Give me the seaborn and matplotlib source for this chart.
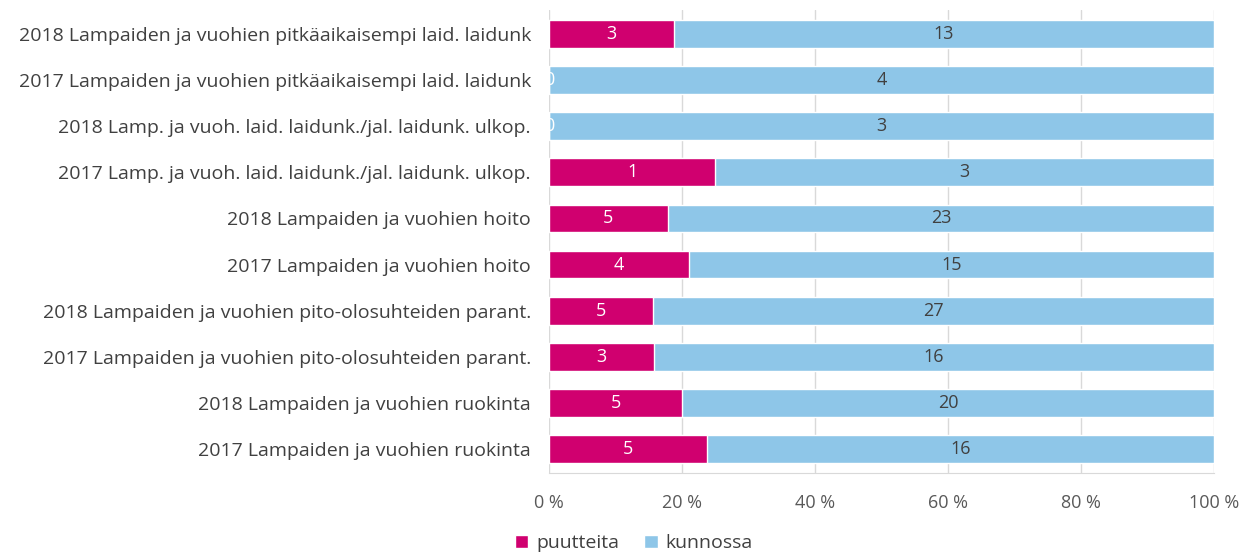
import numpy as np
import pandas as pd
import matplotlib.pyplot as plt
import seaborn as sns

# Data (top to bottom as in the chart)
categories = [
    "2018 Lampaiden ja vuohien pitkäaikaisempi laid. laidunk",
    "2017 Lampaiden ja vuohien pitkäaikaisempi laid. laidunk",
    "2018 Lamp. ja vuoh. laid. laidunk./jal. laidunk. ulkop.",
    "2017 Lamp. ja vuoh. laid. laidunk./jal. laidunk. ulkop.",
    "2018 Lampaiden ja vuohien hoito",
    "2017 Lampaiden ja vuohien hoito",
    "2018 Lampaiden ja vuohien pito-olosuhteiden parant.",
    "2017 Lampaiden ja vuohien pito-olosuhteiden parant.",
    "2018 Lampaiden ja vuohien ruokinta",
    "2017 Lampaiden ja vuohien ruokinta",
]
puutteita = [3, 0, 0, 1, 5, 4, 5, 3, 5, 5]
kunnossa = [13, 4, 3, 3, 23, 15, 27, 16, 20, 16]
series_names = ["puutteita", "kunnossa"]
xticks = [0, 20, 40, 60, 80, 100]

magenta = "#D0006F"
blue = "#8EC6E8"

df = pd.DataFrame({"cat": categories, "puutteita": puutteita, "kunnossa": kunnossa})
df["total"] = df["puutteita"] + df["kunnossa"]
df["p_pct"] = df["puutteita"] / df["total"] * 100
df["full"] = 100.0

sns.set_style("white")
plt.rcParams["font.family"] = ["Open Sans", "DejaVu Sans"]

fig = plt.figure(figsize=(12.43, 5.52), dpi=100)
ax = fig.add_axes([0.4417, 0.143, 0.535, 0.839])

# stacked: full bar in blue, puutteita share over it
sns.barplot(data=df, y="cat", x="full", color=blue, width=0.6, ax=ax,
            orient="h", saturation=1, label=series_names[1], zorder=2)
sns.barplot(data=df, y="cat", x="p_pct", color=magenta, width=0.6, ax=ax,
            orient="h", saturation=1, label=series_names[0], zorder=3)

# value labels
for i, row in df.iterrows():
    ax.text(row["p_pct"] / 2, i, str(row["puutteita"]), ha="center", va="center",
            color="white", fontsize=13, zorder=5, clip_on=False)
    ax.text(row["p_pct"] + (100 - row["p_pct"]) / 2, i, str(row["kunnossa"]),
            ha="center", va="center", color="#404040", fontsize=13, zorder=5)

ax.set_xlim(0, 100)
ax.set_ylim(len(categories) - 0.48, -0.52)
ax.set_xticks(xticks)
ax.set_xticklabels([f"{t} %" for t in xticks], fontsize=13, color="#595959")
ax.tick_params(axis="x", length=0, pad=15)
ax.tick_params(axis="y", length=0, pad=13, labelsize=14, labelcolor="#404040")
ax.set_xlabel("")
ax.set_ylabel("")
ax.grid(axis="x", color="#D9D9D9", linewidth=1, zorder=0)
ax.set_axisbelow(True)
for s in ["top", "right", "left"]:
    ax.spines[s].set_visible(False)
ax.spines["bottom"].set_color("#D9D9D9")

handles, labels = ax.get_legend_handles_labels()
order = [labels.index(n) for n in series_names]
fig.legend([handles[k] for k in order], [labels[k] for k in order],
           loc="lower center", bbox_to_anchor=(0.51, -0.032), ncol=2, frameon=False,
           fontsize=14, handlelength=0.7, handleheight=0.7, handletextpad=0.4,
           columnspacing=1.3, labelcolor="#404040")
if ax.get_legend() is not None:
    ax.get_legend().remove()

fig.savefig("out.png", dpi=100)
